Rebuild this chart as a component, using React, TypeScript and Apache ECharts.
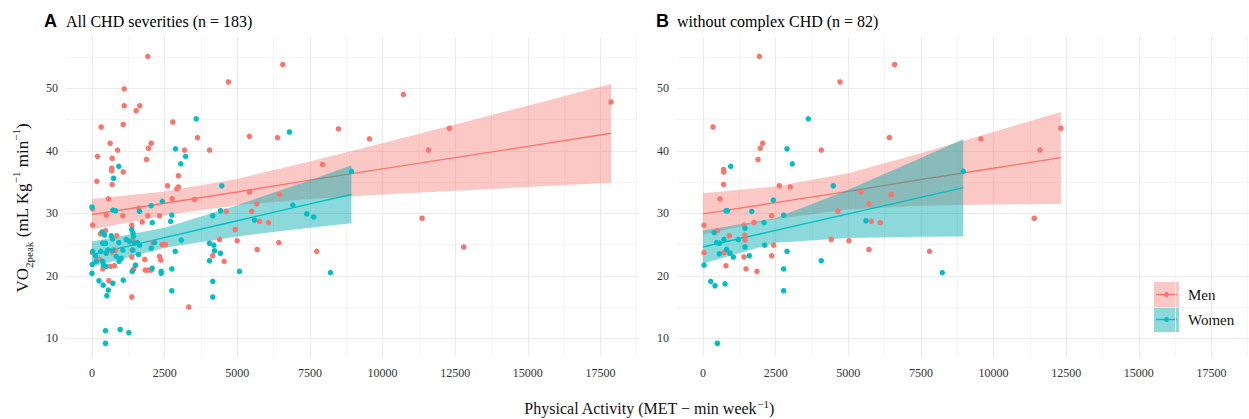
import React, { useEffect, useRef } from "react";
import * as echarts from "echarts";

const xMajor = [0, 2500, 5000, 7500, 10000, 12500, 15000, 17500];
const xMinor = [1250, 3750, 6250, 8750, 11250, 13750, 16250, 18750];
const yMajor = [10, 20, 30, 40, 50];
const yMinor = [15, 25, 35, 45, 55];

const panelTitles = ["All CHD severities (n = 183)", "without complex CHD (n = 82)"];
const panelLetters = ["A", "B"];
const groups = ["Men", "Women"];

const menA: number[][] = [
  [1920, 55.1], [6567, 53.8], [4698, 51.0], [1108, 49.9], [10720, 49.0], [1108, 47.2], [1645, 47.2], [1521, 46.4],
  [317, 43.8], [2781, 44.6], [1074, 44.2], [8483, 43.5], [5420, 42.3], [6384, 42.1], [9550, 41.9], [3631, 42.1],
  [626, 41.2], [2037, 41.2], [1944, 40.4], [189, 39.1], [878, 40.1], [3183, 40.1], [4044, 40.1], [695, 38.8],
  [1876, 38.6], [7933, 37.8], [681, 37.2], [681, 36.8], [1074, 36.6], [2977, 36.0], [165, 35.1], [695, 34.6],
  [2598, 34.4], [2977, 34.2], [2919, 33.9], [5420, 33.4], [6453, 33.0], [568, 32.3], [2760, 32.3], [3528, 32.2],
  [11363, 29.2], [12796, 24.6], [11581, 40.1], [12303, 43.6], [17868, 47.8],
  [17, 30.7], [17, 28.1], [488, 29.7], [1061, 29.6], [1612, 30.8], [1920, 29.6], [2323, 29.6], [1727, 28.6],
  [5500, 30.3], [4618, 30.3], [5672, 31.5], [5765, 28.7], [6074, 28.5], [4928, 27.4], [4997, 25.6], [6429, 25.3],
  [4388, 25.8], [5685, 24.2], [7737, 23.9], [4157, 23.2], [4549, 22.3], [3332, 15.0], [1370, 16.6], [17, 23.7],
  [292, 26.7], [465, 27.2], [695, 23.8], [809, 24.1], [854, 26.4], [372, 22.3], [372, 21.1], [637, 21.5],
  [774, 21.6], [578, 19.2], [1370, 28.1], [1383, 24.1], [1405, 25.7], [1370, 23.0], [1439, 21.1], [1817, 22.6],
  [1830, 20.9], [1920, 20.9], [2037, 20.9], [2323, 23.1], [2368, 22.5], [2093, 25.3], [2416, 25.0], [2530, 25.0],
  [258, 22.6],
];

const womenA: number[][] = [
  [0, 31.0], [10, 21.8], [0, 20.4], [120, 23.2], [28, 23.9], [143, 22.3], [240, 19.2], [300, 23.9], [350, 27.0],
  [372, 25.2], [465, 25.2], [360, 22.3], [396, 21.7], [385, 18.5], [560, 17.7], [510, 16.8], [716, 18.8],
  [465, 11.2], [970, 11.4], [1267, 10.9], [465, 9.2], [1075, 19.3], [488, 23.6], [544, 24.1], [716, 24.1],
  [430, 26.5], [665, 26.4], [705, 25.9], [716, 30.5], [809, 30.4], [488, 21.5], [930, 22.3], [975, 22.7],
  [832, 23.1], [1005, 22.8], [922, 25.3], [1061, 24.1], [1177, 25.8], [1290, 25.5], [1370, 27.4], [1410, 26.8],
  [1428, 26.3], [1463, 25.2], [1405, 24.1], [1383, 20.7], [1497, 21.7], [1600, 23.4], [1566, 25.3], [1635, 24.9],
  [1635, 30.3], [2037, 31.2], [2420, 31.9], [2072, 28.5], [2037, 24.4], [2151, 25.3], [2072, 21.2], [2381, 20.4],
  [2381, 20.7], [2747, 29.7], [2702, 28.7], [2747, 21.1], [2747, 17.6], [2863, 23.9], [3070, 25.7], [3586, 45.1],
  [6797, 43.0], [2874, 40.3], [3218, 39.1], [3057, 37.9], [922, 37.5], [740, 35.6], [8931, 36.7], [4467, 34.4],
  [4157, 29.6], [4044, 25.2], [4192, 24.9], [4216, 24.0], [4422, 23.6], [4044, 22.4], [4157, 19.1], [4157, 16.6],
  [4422, 30.4], [5076, 20.7], [5592, 28.9], [6911, 31.3], [7392, 29.9], [7633, 29.4], [8208, 20.5],
];

const menB: number[][] = [
  [1939, 55.1], [6597, 53.8], [4715, 51.0], [344, 43.8], [6413, 42.1], [2054, 41.2], [1972, 40.4], [4071, 40.1],
  [1893, 38.6], [712, 37.0], [712, 36.6], [712, 34.6], [2626, 34.4], [3004, 34.2], [5437, 33.4], [6481, 33.0],
  [585, 32.3], [9567, 41.9], [12320, 43.6], [11598, 40.1], [11403, 29.2], [7800, 23.9], [34, 28.1], [34, 23.7],
  [493, 27.2], [905, 26.4], [723, 23.7], [792, 21.6], [1411, 28.1], [1445, 26.5], [1445, 25.7], [1411, 23.0],
  [1480, 21.1], [1755, 28.5], [1858, 20.7], [2364, 29.6], [2364, 23.2], [2433, 24.9], [4646, 30.3], [4416, 25.8],
  [5024, 25.6], [5713, 31.5], [5793, 28.7], [6102, 28.5], [5713, 24.2],
];

const womenB: number[][] = [
  [3624, 45.1], [2891, 40.3], [3073, 37.9], [953, 37.5], [4485, 34.4], [2420, 32.1], [8959, 36.7], [8236, 20.5],
  [34, 21.7], [379, 26.9], [470, 25.3], [561, 25.2], [561, 23.5], [723, 25.8], [792, 30.4], [838, 30.4],
  [815, 24.2], [929, 23.6], [1043, 23.0], [1216, 25.8], [1445, 27.6], [1445, 24.6], [1594, 23.2], [1675, 30.3],
  [2099, 28.5], [2123, 24.9], [2776, 29.7], [2776, 21.1], [2776, 17.6], [2891, 23.9], [4071, 22.4], [5610, 28.8],
  [265, 19.1], [413, 18.4], [757, 18.7], [493, 9.2],
];

// Fitted lines and 95% bands
const menAFitX = [0, 2500, 5000, 7500, 10000, 12500, 15000, 17868];
const menAFit = [29.8, 31.6, 33.4, 35.3, 37.1, 38.9, 40.7, 42.8];
const menAHi = [32.3, 33.5, 35.5, 38.3, 41.2, 44.2, 47.2, 50.7];
const menALo = [27.4, 29.7, 31.3, 32.3, 33.0, 33.6, 34.2, 34.9];

const womenAFitX = [0, 2500, 5000, 7500, 8930];
const womenAFit = [23.4, 26.1, 28.8, 31.5, 33.0];
const womenAHi = [25.5, 27.7, 31.3, 35.3, 37.7];
const womenALo = [21.4, 24.5, 26.3, 27.7, 28.4];

const menBFitX = [0, 2500, 5000, 7500, 10000, 12320];
const menBFit = [29.9, 31.7, 33.5, 35.4, 37.2, 38.9];
const menBHi = [33.2, 34.3, 36.4, 39.6, 43.0, 46.2];
const menBLo = [26.6, 29.1, 30.6, 31.2, 31.4, 31.5];

const womenBFitX = [0, 2500, 5000, 7500, 8960];
const womenBFit = [24.6, 27.25, 29.9, 32.55, 34.1];
const womenBHi = [27.25, 29.2, 33.75, 38.85, 41.9];
const womenBLo = [21.95, 25.3, 26.05, 26.25, 26.3];

const MEN = "#F8766D";
const WOMEN = "#00BFC4";
const MEN_FILL = "#F8766D";
const WOMEN_FILL = "#00ABB0";
const SERIF = "'Liberation Serif', 'Times New Roman', serif";
const SANS = "'Liberation Sans', Arial, sans-serif";

const X_MIN = -895;
const X_MAX = 18795;
const Y_MIN = 7.0;
const Y_MAX = 58.2;

function bandSeries(g: number, xs: number[], lo: number[], hi: number[], color: string, opacity: number, z: number) {
  return {
    type: "custom",
    xAxisIndex: g * 2,
    yAxisIndex: g * 2,
    silent: true,
    z,
    data: [[xs[0], lo[0]]],
    renderItem: (_params: any, api: any) => {
      const pts: number[][] = [];
      for (let i = 0; i < xs.length; i++) pts.push(api.coord([xs[i], hi[i]]));
      for (let i = xs.length - 1; i >= 0; i--) pts.push(api.coord([xs[i], lo[i]]));
      return {
        type: "polygon",
        shape: { points: pts },
        style: { fill: color, opacity, stroke: "none" },
      };
    },
  };
}

function lineSeries(g: number, xs: number[], ys: number[], color: string, z: number) {
  return {
    type: "line",
    xAxisIndex: g * 2,
    yAxisIndex: g * 2,
    data: xs.map((x, i) => [x, ys[i]]),
    showSymbol: false,
    silent: true,
    z,
    lineStyle: { color, width: 1.4 },
  };
}

function scatterSeries(g: number, name: string, data: number[][], color: string) {
  return {
    type: "scatter",
    name,
    xAxisIndex: g * 2,
    yAxisIndex: g * 2,
    data,
    symbolSize: 5.5,
    z: 10,
    itemStyle: { color, opacity: 1 },
  };
}

const plainNum = (v: number) => String(v);

function xAxes(g: number) {
  return [
    {
      type: "value",
      gridIndex: g,
      min: X_MIN,
      max: X_MAX,
      axisLine: { show: false },
      axisTick: { show: false, customValues: xMajor },
      axisLabel: { customValues: xMajor, formatter: plainNum, margin: 10, fontFamily: SERIF, fontSize: 12, color: "#333" },
      splitLine: { show: true, lineStyle: { color: "#EBEBEB", width: 1.1 } },
    },
    {
      type: "value",
      gridIndex: g,
      min: X_MIN,
      max: X_MAX,
      axisLine: { show: false },
      axisTick: { show: false, customValues: xMinor },
      axisLabel: { show: false, customValues: xMinor },
      splitLine: { show: true, lineStyle: { color: "#F3F3F3", width: 0.8 } },
    },
  ];
}

function yAxes(g: number) {
  return [
    {
      type: "value",
      gridIndex: g,
      min: Y_MIN,
      max: Y_MAX,
      axisLine: { show: false },
      axisTick: { show: false, customValues: yMajor },
      axisLabel: { customValues: yMajor, formatter: plainNum, margin: 8, fontFamily: SERIF, fontSize: 12, color: "#333" },
      splitLine: { show: true, lineStyle: { color: "#EBEBEB", width: 1.1 } },
    },
    {
      type: "value",
      gridIndex: g,
      min: Y_MIN,
      max: Y_MAX,
      axisLine: { show: false },
      axisTick: { show: false, customValues: yMinor },
      axisLabel: { show: false, customValues: yMinor },
      splitLine: { show: true, lineStyle: { color: "#F3F3F3", width: 0.8 } },
    },
  ];
}

function legendItem(label: string, color: string, fill: string, opacity: number, top: number) {
  const x = 1154;
  return [
    { type: "rect", shape: { x, y: top, width: 25, height: 25 }, style: { fill, opacity } },
    { type: "line", shape: { x1: x + 2, y1: top + 12.5, x2: x + 23, y2: top + 12.5 }, style: { stroke: color, lineWidth: 1.4 } },
    { type: "circle", shape: { cx: x + 12.5, cy: top + 12.5, r: 2.5 }, style: { fill: color } },
    {
      type: "text",
      x: x + 34,
      y: top + 12.5,
      style: { text: label, fontFamily: SERIF, fontSize: 15, fill: "#111", verticalAlign: "middle", align: "left" },
    },
  ];
}

export default function App() {
  const ref = useRef<HTMLDivElement>(null);

  useEffect(() => {
    if (!ref.current) return;
    const chart = echarts.init(ref.current, undefined, { renderer: "svg" });

    const option: any = {
      animation: false,
      backgroundColor: "#ffffff",
      grid: [
        { left: 66, top: 37, width: 572, height: 320 },
        { left: 677, top: 37, width: 572, height: 320 },
      ],
      xAxis: [...xAxes(0), ...xAxes(1)],
      yAxis: [...yAxes(0), ...yAxes(1)],
      series: [
        bandSeries(0, menAFitX, menALo, menAHi, MEN_FILL, 0.4, 2),
        lineSeries(0, menAFitX, menAFit, MEN, 3),
        bandSeries(0, womenAFitX, womenALo, womenAHi, WOMEN_FILL, 0.45, 4),
        lineSeries(0, womenAFitX, womenAFit, WOMEN, 5),
        scatterSeries(0, groups[0], menA, MEN),
        scatterSeries(0, groups[1], womenA, WOMEN),
        bandSeries(1, menBFitX, menBLo, menBHi, MEN_FILL, 0.4, 2),
        lineSeries(1, menBFitX, menBFit, MEN, 3),
        bandSeries(1, womenBFitX, womenBLo, womenBHi, WOMEN_FILL, 0.45, 4),
        lineSeries(1, womenBFitX, womenBFit, WOMEN, 5),
        scatterSeries(1, groups[0], menB, MEN),
        scatterSeries(1, groups[1], womenB, WOMEN),
      ],
      graphic: [
        {
          type: "text",
          x: 44,
          y: 21,
          style: { text: panelLetters[0], fontFamily: SANS, fontWeight: "bold", fontSize: 18, fill: "#000", verticalAlign: "middle" },
        },
        {
          type: "text",
          x: 66,
          y: 21,
          style: { text: panelTitles[0], fontFamily: SERIF, fontSize: 16, fill: "#000", verticalAlign: "middle" },
        },
        {
          type: "text",
          x: 656,
          y: 21,
          style: { text: panelLetters[1], fontFamily: SANS, fontWeight: "bold", fontSize: 18, fill: "#000", verticalAlign: "middle" },
        },
        {
          type: "text",
          x: 677,
          y: 21,
          style: { text: panelTitles[1], fontFamily: SERIF, fontSize: 16, fill: "#000", verticalAlign: "middle" },
        },
        {
          type: "text",
          x: 649,
          y: 408,
          style: {
            text: "{b|Physical Activity (MET − min week}{s|−1}{b|)}",
            align: "center",
            verticalAlign: "middle",
            rich: {
              b: { fontFamily: SERIF, fontSize: 16, fill: "#111", lineHeight: 20, verticalAlign: "middle" },
              s: { fontFamily: SERIF, fontSize: 11, fill: "#111", lineHeight: 11, verticalAlign: "top" },
            },
          },
        },
        {
          type: "text",
          x: 22,
          y: 208,
          rotation: Math.PI / 2,
          style: {
            text: "{b|VO}{d|2peak}{b| (mL Kg}{s|−1}{b| min}{s|−1}{b|)}",
            align: "center",
            verticalAlign: "middle",
            rich: {
              b: { fontFamily: SERIF, fontSize: 17, fill: "#111", lineHeight: 24, verticalAlign: "middle" },
              d: { fontFamily: SERIF, fontSize: 11, fill: "#111", lineHeight: 24, verticalAlign: "bottom", padding: [6, 0, 0, 0] },
              s: { fontFamily: SERIF, fontSize: 11, fill: "#111", lineHeight: 24, verticalAlign: "top", padding: [0, 0, 6, 0] },
            },
          },
        },
        ...legendItem(groups[0], MEN, MEN_FILL, 0.4, 282),
        ...legendItem(groups[1], WOMEN, WOMEN_FILL, 0.45, 307),
      ],
    };

    chart.setOption(option);
    return () => chart.dispose();
  }, []);

  return <div ref={ref} style={{ position: "fixed", left: 0, top: 0, width: 1249, height: 419 }} />;
}
